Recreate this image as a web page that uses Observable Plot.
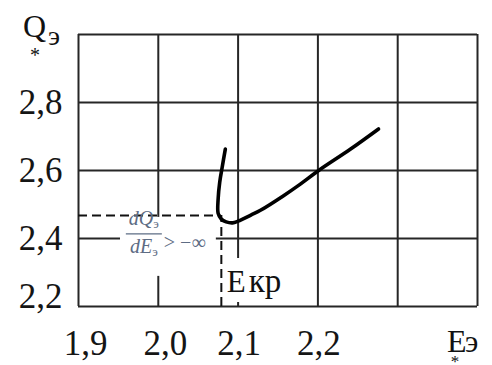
<!DOCTYPE html>
<html><head><meta charset="utf-8">
<script src="https://cdn.jsdelivr.net/npm/d3@7"></script>
<script src="https://cdn.jsdelivr.net/npm/@observablehq/plot@0.6"></script>
<style>body{margin:0;background:#fff}</style>
</head><body><div id="chart"></div>
<script>
// Curve Q*э(E*э)
const curveE = [2.084, 2.080, 2.077, 2.075, 2.075, 2.079, 2.085, 2.093, 2.100, 2.116, 2.128, 2.157, 2.178, 2.201, 2.241, 2.276];
const curveQ = [2.663, 2.609, 2.566, 2.517, 2.474, 2.457, 2.449, 2.446, 2.451, 2.469, 2.483, 2.526, 2.560, 2.600, 2.663, 2.722];
// Grid and tick values
const xGrid = [1.9, 2.0, 2.1, 2.2, 2.3, 2.4];
const yGrid = [2.2, 2.4, 2.6, 2.8, 3.0];
const xTickValues = [1.9, 2.0, 2.1, 2.2];
const yTickValues = [2.2, 2.4, 2.6, 2.8];
// Critical point (dashed lines)
const critE = [2.079];
const critQ = [2.468];
// Texts
const yTitle = ["Q", "э", "*"];
const xTitle = ["E", "э", "*"];
const critLabel = ["E", "кр"];
const derivNum = ["dQ", "э"];
const derivDen = ["dE", "э"];
const derivRel = ["> −∞"];

const curve = curveE.map((e, i) => ({E: e, Q: curveQ[i]}));
const fmt = d => d.toFixed(1).replace(".", ",");
const serif = "Liberation Serif, Times New Roman, serif";
const gridColor = "#262626";
const noteColor = "#5d6c84";

// white boxes behind annotation texts
function boxes(index, {x, y}) {
  const g = d3.create("svg:g").attr("fill", "white");
  const xe = x(critE[0]), yq = y(critQ[0]);
  g.append("rect").attr("x", x(1.9) + 42).attr("y", yq + 2)
    .attr("width", xe - 5 - (x(1.9) + 42)).attr("height", 59);
  g.append("rect").attr("x", xe + 3).attr("y", y(2.2) - 48)
    .attr("width", 72).attr("height", 44);
  return g.node();
}

function notes(index, {x, y}) {
  const g = d3.create("svg:g").attr("font-family", serif).attr("text-anchor", "start");
  const xe = x(critE[0]), yq = y(critQ[0]);
  const cx = xe - 77;
  // fraction
  const n = g.append("text").attr("x", cx).attr("y", yq + 10).attr("text-anchor", "middle")
    .attr("fill", noteColor).attr("font-size", 20).attr("font-style", "italic");
  n.append("tspan").text(derivNum[0]);
  n.append("tspan").attr("font-size", 13).attr("dy", 3).attr("font-style", "normal").text(derivNum[1]);
  g.append("line").attr("x1", cx - 18).attr("x2", cx + 18).attr("y1", yq + 19).attr("y2", yq + 19)
    .attr("stroke", noteColor).attr("stroke-width", 1.3);
  const d = g.append("text").attr("x", cx).attr("y", yq + 38).attr("text-anchor", "middle")
    .attr("fill", noteColor).attr("font-size", 20).attr("font-style", "italic");
  d.append("tspan").text(derivDen[0]);
  d.append("tspan").attr("font-size", 13).attr("dy", 3).attr("font-style", "normal").text(derivDen[1]);
  g.append("text").attr("x", xe - 57).attr("y", yq + 34).attr("fill", noteColor)
    .attr("font-size", 20).text(derivRel[0]);
  // E кр
  const k = g.append("text").attr("x", xe + 6).attr("y", y(2.2) - 14).attr("fill", "#111").attr("font-size", 31);
  k.append("tspan").text(critLabel[0]);
  k.append("tspan").attr("dx", 3).attr("font-size", 33).text(critLabel[1]);
  // axis titles
  const x0 = x(1.9), y0 = y(3.0);
  g.append("text").attr("x", x0 - 55).attr("y", y0 + 3).attr("font-size", 32).attr("fill", "#111").text(yTitle[0]);
  g.append("text").attr("x", x0 - 30).attr("y", y0 + 11).attr("font-size", 28).attr("fill", "#111").text(yTitle[1]);
  g.append("text").attr("x", x0 - 43).attr("y", y0 + 28).attr("font-size", 20).attr("text-anchor", "middle").attr("fill", "#111").text(yTitle[2]);
  const x1 = x(2.4), yb = y(2.2);
  g.append("text").attr("x", x1 - 30).attr("y", yb + 46).attr("font-size", 32).attr("fill", "#111").text(xTitle[0]);
  g.append("text").attr("x", x1 - 12).attr("y", yb + 46).attr("font-size", 31).attr("fill", "#111").text(xTitle[1]);
  g.append("text").attr("x", x1 - 22).attr("y", yb + 61).attr("font-size", 17).attr("text-anchor", "middle").attr("fill", "#111").text(xTitle[2]);
  return g.node();
}

const axisStyle = {tickSize: 0, tickFormat: fmt, label: null, fontSize: 35, fill: "#151515"};

const chart = Plot.plot({
  width: 492, height: 365,
  marginLeft: 78, marginRight: 15, marginTop: 34, marginBottom: 59,
  style: {fontFamily: serif, background: "white", color: "#151515"},
  x: {domain: [1.9, 2.4]},
  y: {domain: [2.2, 3.0]},
  marks: [
    Plot.ruleX(xGrid, {stroke: gridColor, strokeWidth: 2}),
    Plot.ruleY(yGrid, {stroke: gridColor, strokeWidth: 2}),
    boxes,
    Plot.ruleY(critQ, {x1: 1.9, x2: critE[0], stroke: "#111", strokeWidth: 2, strokeDasharray: "9,5"}),
    Plot.ruleX(critE, {y1: 2.2, y2: critQ[0], stroke: "#111", strokeWidth: 2, strokeDasharray: "9,5"}),
    Plot.line(curve, {x: "E", y: "Q", curve: "catmull-rom", stroke: "#000", strokeWidth: 3.6, strokeLinecap: "round", strokeLinejoin: "round"}),
    Plot.axisX(xTickValues.filter(v => v < 2.05), {...axisStyle, tickPadding: 24, dx: 7}),
    Plot.axisX(xTickValues.filter(v => v > 2.05), {...axisStyle, tickPadding: 24, dx: 1}),
    Plot.axisY(yTickValues.filter(v => v > 2.3), {...axisStyle, tickPadding: 16}),
    Plot.axisY(yTickValues.filter(v => v < 2.3), {...axisStyle, tickPadding: 16, dy: -10}),
    notes
  ]
});
document.getElementById("chart").append(chart);
</script>
</body></html>
